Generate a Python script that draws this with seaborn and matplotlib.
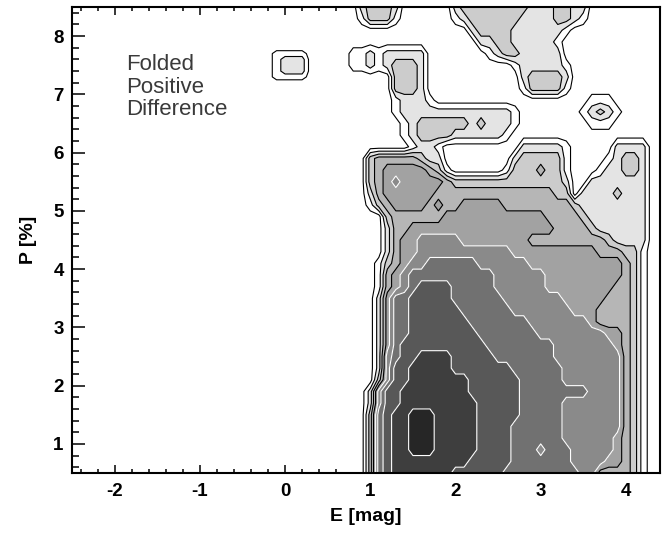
import numpy as np
import matplotlib
matplotlib.use("Agg")
import matplotlib.pyplot as plt
from matplotlib.ticker import MultipleLocator
import seaborn as sns

sns.set_theme(style="ticks")
plt.rcParams["font.family"] = ["Liberation Sans", "DejaVu Sans"]

# Sampling grid of the folded positive-difference density (E in mag, P in %)
E_GRID = [0.7, 0.8, 0.9, 1.0, 1.1, 1.2, 1.3, 1.4, 1.5, 1.6,
          1.7, 1.8, 1.9, 2.0, 2.1, 2.2, 2.3, 2.4, 2.5, 2.6,
          2.7, 2.8, 2.9, 3.0, 3.1, 3.2, 3.3, 3.4, 3.5, 3.6,
          3.7, 3.8, 3.9, 4.0, 4.1, 4.2, 4.3, 4.4]
P_GRID = [8.5, 8.3, 8.1, 7.9, 7.7, 7.5, 7.3, 7.1, 6.9, 6.7, 6.5,
          6.3, 6.1, 5.9, 5.7, 5.5, 5.3, 5.1, 4.9, 4.7, 4.5, 4.3,
          4.1, 3.9, 3.7, 3.5, 3.3, 3.1, 2.9, 2.7, 2.5, 2.3, 2.1,
          1.9, 1.7, 1.5, 1.3, 1.1, 0.9, 0.7, 0.5]

# Density level per node (hex digit, 'a' = 10), one string per P row, top to bottom
DENSITY_ROWS = [
    "0023332000" "0002333333" "3322233220" "00000000",
    "0013331000" "0001233333" "3222233210" "00000000",
    "0000000000" "0000023333" "2222221000" "00000000",
    "0000000000" "0000002233" "2222210000" "00000000",
    "0112122222" "0000000123" "3222220000" "00000000",
    "0112123332" "0000000000" "1222221000" "00000000",
    "0000003332" "0000000000" "0233332000" "00000000",
    "0000003332" "0000000000" "0133331000" "00000000",
    "0000001222" "1000000000" "0000000001" "11000000",
    "0000001222" "2222222222" "1000000012" "32100000",
    "0000000123" "3333323222" "1000000001" "11000000",
    "0000000123" "3332222221" "0000000000" "00000000",
    "0000000012" "2100000000" "0222221000" "00222200",
    "0003444443" "2200000000" "2333331000" "01233200",
    "0003455555" "4310000001" "3334331000" "12233200",
    "0003456555" "5543333333" "3333332002" "22222200",
    "0002455555" "5444444444" "4444433022" "22322200",
    "0001345555" "4544555554" "4444444322" "22222200",
    "0000034444" "4455555555" "5555444432" "22222200",
    "0000024455" "5555555555" "5555544443" "22222200",
    "0000024556" "6666555555" "5544444444" "43222200",
    "0000024556" "6666666666" "5555555555" "44433100",
    "0000134566" "7777776666" "6655555555" "55543100",
    "0000145677" "7777777766" "6666555555" "55543100",
    "0000145678" "8887777766" "6666555555" "55443100",
    "0000257788" "8887777776" "6666665555" "54443100",
    "0000257788" "8888777777" "6666666555" "44443100",
    "0000257788" "8888877777" "7766666665" "44443100",
    "0000257788" "8888887777" "7776666666" "65543100",
    "0000257888" "8888888777" "7777766666" "66543100",
    "0000267889" "9998888877" "7777766666" "66643100",
    "0000268899" "9998888888" "7777776666" "66643100",
    "0000368899" "9999988888" "8777776666" "66643100",
    "0002688999" "9999988888" "8777777776" "66643100",
    "0002688999" "9999998888" "8777776666" "66643100",
    "00037899aa" "a999998888" "8777776666" "66643100",
    "00037899aa" "a999998888" "7777776666" "66643100",
    "00037899aa" "a999998888" "7777776666" "66543100",
    "00037899aa" "a999998888" "7776777666" "66543100",
    "0003789999" "9999988888" "7777777666" "65543100",
    "0003789999" "9998888887" "7777777766" "44443100",
]

# Isolated patch near E = 0
ISLAND_E = [-0.2, -0.1, 0.0, 0.1, 0.2, 0.3]
ISLAND_P = [7.8, 7.7, 7.6, 7.5, 7.4, 7.3, 7.2]
ISLAND_ROWS = [
    "000000",
    "011110",
    "012220",
    "012220",
    "012220",
    "011110",
    "000000",
]

BAND_COLORS = ["#ffffff", "#ffffff", "#e4e4e4", "#cccccc", "#b6b6b6",
               "#a2a2a2", "#8a8a8a", "#717171", "#585858", "#3e3e3e",
               "#262626"]
X_TICKS = [-2, -1, 0, 1, 2, 3, 4]
Y_TICKS = [1, 2, 3, 4, 5, 6, 7, 8]
LABEL_TEXT = "Folded\nPositive\nDifference"


def to_grid(rows):
    return np.array([[int(ch, 16) for ch in row] for row in rows], dtype=float)


n_levels = len(BAND_COLORS)
fill_levels = np.arange(n_levels + 1) - 0.5
line_levels = fill_levels[1:-1]
line_colors = ["black" if lv < 5 else "white" for lv in line_levels]

fig = plt.figure(figsize=(6.7, 5.38), dpi=100)
ax = fig.add_axes([0.1075, 0.1208, 0.8776, 0.8662])
ax.set_facecolor("white")

for e_vals, p_vals, rows in [(E_GRID, P_GRID, DENSITY_ROWS),
                             (ISLAND_E, ISLAND_P, ISLAND_ROWS)]:
    z = to_grid(rows)[::-1]
    p = np.array(p_vals)[::-1]
    ax.contourf(e_vals, p, z, levels=fill_levels, colors=BAND_COLORS)
    ax.contour(e_vals, p, z, levels=line_levels, colors=line_colors,
               linewidths=0.8)

ax.set_xlim(-2.5, 4.4)
ax.set_ylim(0.5, 8.5)
ax.set_xticks(X_TICKS)
ax.set_yticks(Y_TICKS)
ax.set_xticklabels([str(t) for t in X_TICKS])
ax.set_yticklabels([str(t) for t in Y_TICKS])
ax.xaxis.set_minor_locator(MultipleLocator(0.2))
ax.yaxis.set_minor_locator(MultipleLocator(0.2))
ax.tick_params(which="both", direction="in", top=True, right=True,
               width=1.1, color="black", labelcolor="black")
ax.tick_params(axis="x", which="major", length=6, labelsize=13.5, pad=7)
ax.tick_params(axis="x", which="minor", length=3)
ax.tick_params(axis="y", which="major", length=9.5, labelsize=13.5, pad=6)
ax.tick_params(axis="y", which="minor", length=5)
for lab in ax.get_xticklabels() + ax.get_yticklabels():
    lab.set_fontweight("bold")
for sp in ax.spines.values():
    sp.set_linewidth(1.5)
    sp.set_color("black")

ax.set_xlabel("E [mag]", fontsize=14, fontweight="bold", labelpad=6,
              color="black")
ax.set_ylabel("P [%]", fontsize=14, fontweight="bold", labelpad=12,
              color="black")
ax.text(-1.86, 7.69, LABEL_TEXT, ha="left", va="top", fontsize=16,
        color="#3a3a3a", linespacing=1.1)

fig.savefig("out.png", dpi=100)
